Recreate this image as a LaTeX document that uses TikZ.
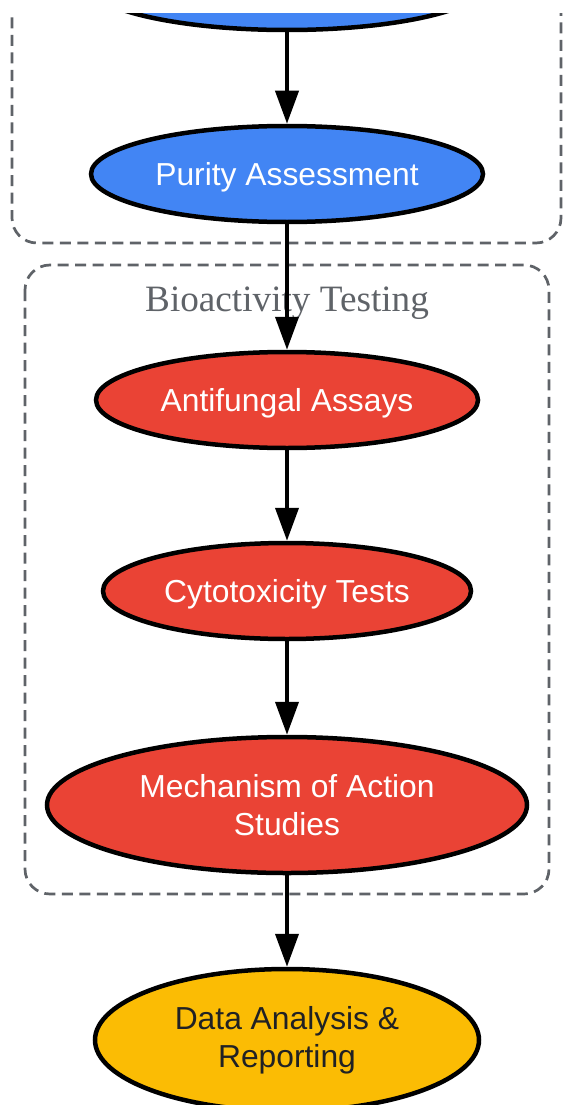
\documentclass[tikz,border=0pt]{standalone}
\usepackage{fontspec}
\setmainfont{Liberation Sans}
\newfontfamily\clusterfont{Liberation Serif}
\usetikzlibrary{arrows.meta,shapes.geometric}
\definecolor{gblue}{HTML}{4285F4}
\definecolor{gred}{HTML}{EA4335}
\definecolor{gyellow}{HTML}{FBBC04}
\definecolor{gdark}{HTML}{202124}
\definecolor{ggray}{HTML}{5F6368}
\tikzset{
  stepnode/.style={ellipse, draw=black, line width=4.5pt, inner sep=0pt, align=center,
    font=\fontsize{31.8}{38}\selectfont},
  oneline/.style={text height=23pt, text depth=0pt},
  bluenode/.style={stepnode, fill=gblue, text=white},
  rednode/.style={stepnode, fill=gred, text=white},
  yellownode/.style={stepnode, fill=gyellow, text=gdark},
  flow/.style={line width=4pt, -{Triangle[length=33pt,width=23pt]}},
  clusterbox/.style={draw=ggray, line width=2.7pt, dash pattern=on 11pt off 6.5pt, rounded corners=25pt},
  clusterlabel/.style={text=ggray, font=\clusterfont\fontsize{37.2}{40}\selectfont, anchor=base}
}
\begin{document}
\begin{tikzpicture}[x=1pt,y=-1pt]
\useasboundingbox[fill=white] (0,0) rectangle (563,1105);
\clip (0,14) rectangle (563,1105);
% clusters
\draw[clusterbox] (12,-60) rectangle (561,243);
\draw[clusterbox] (25,265) rectangle (549,894);
\node[clusterlabel] (lab) at (287,311) {Bioactivity Testing};
% nodes
\node[bluenode, minimum width=404pt, minimum height=96pt] (prep) at (287,-18) {};
\node[bluenode, oneline, minimum width=392pt, minimum height=96pt] (purity) at (287,174) {Purity Assessment};
\node[rednode, oneline, minimum width=382pt, minimum height=96pt] (anti) at (287,400) {Antifungal Assays};
\node[rednode, oneline, minimum width=368pt, minimum height=96pt] (cyto) at (287,591) {Cytotoxicity Tests};
\node[rednode, minimum width=480pt, minimum height=136pt] (mech) at (287,805) {Mechanism of Action\\Studies};
\node[yellownode, minimum width=384pt, minimum height=142pt] (data) at (287,1040) {Data Analysis \&\\Reporting};
% connectors
\draw[flow] (prep) -- (purity);
\draw[flow] (purity) -- (anti);
\draw[flow] (anti) -- (cyto);
\draw[flow] (cyto) -- (mech);
\draw[flow] (mech) -- (data);
\end{tikzpicture}
\end{document}
